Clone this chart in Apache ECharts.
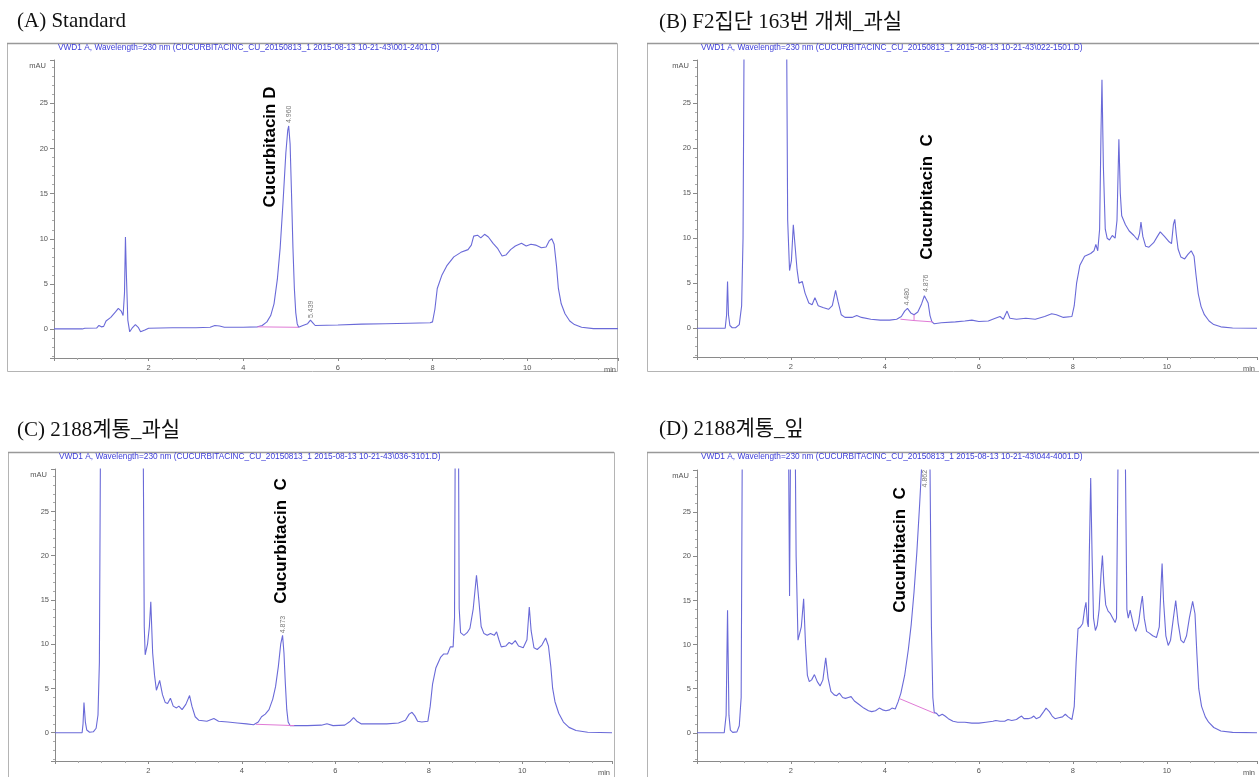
<!DOCTYPE html>
<html>
<head>
<meta charset="utf-8">
<script src="https://cdn.jsdelivr.net/npm/echarts@6/dist/echarts.min.js"></script>
<style>
  html, body { margin: 0; padding: 0; background: #fff; }
  #chart { width: 1259px; height: 777px; }
</style>
</head>
<body>
<div id="chart"></div>
<script>
// chromatogram traces, [time (min), signal (mAU)]
var traceA = [[0,0.02],[0.6,0.02],[0.65,0.1],[0.9,0.12],[0.95,0.4],[1.0,0.25],[1.05,0.3],[1.1,0.9],[1.2,1.3],[1.3,1.9],[1.36,2.3],[1.42,2.0],[1.46,1.5],[1.49,4],[1.51,10.2],[1.53,6],[1.56,1.0],[1.6,-0.3],[1.65,0.1],[1.72,0.5],[1.78,0.2],[1.83,-0.3],[1.87,-0.5],[1.92,-0.1],[2.0,0.1],[2.5,0.15],[3.0,0.15],[3.3,0.2],[3.4,0.4],[3.5,0.35],[3.6,0.2],[4.0,0.2],[4.3,0.25],[4.4,0.4],[4.5,0.8],[4.58,1.5],[4.65,2.8],[4.72,5.5],[4.78,9],[4.84,14],[4.9,19.5],[4.94,22],[4.96,22.5],[4.99,20.5],[5.02,15],[5.05,9],[5.08,4.5],[5.11,1.8],[5.14,0.6],[5.17,0.2],[5.21,0.1],[5.26,0.4],[5.3,0.3],[5.36,0.6],[5.42,1.0],[5.47,0.7],[5.52,0.4],[6.0,0.45],[6.5,0.55],[7.0,0.6],[7.5,0.65],[7.95,0.7],[8.0,0.8],[8.05,2.2],[8.1,4.5],[8.2,6.0],[8.3,7.0],[8.45,8.0],[8.6,8.5],[8.75,8.8],[8.82,9.3],[8.87,10.3],[8.95,10.4],[9.02,10.1],[9.1,10.5],[9.18,10.2],[9.28,9.5],[9.38,8.9],[9.47,8.1],[9.55,8.2],[9.65,8.8],[9.75,9.2],[9.88,9.5],[9.98,9.2],[10.08,9.4],[10.18,9.3],[10.3,9.0],[10.4,9.1],[10.47,9.8],[10.52,10.0],[10.57,9.4],[10.62,7.0],[10.66,4.5],[10.72,2.8],[10.8,1.7],[10.9,0.9],[11.0,0.5],[11.15,0.2],[11.4,0.05],[11.92,0.05]];

var traceB = [[0,0],[0.6,0],[0.63,1.5],[0.65,5.2],[0.67,1.5],[0.7,0.3],[0.75,0.05],[0.82,0.05],[0.9,0.4],[0.95,2.5],[0.98,10],[1.01,40],[1.2,80],[1.7,80],[1.9,40],[1.93,12],[1.97,6.4],[2.01,7.5],[2.05,11.5],[2.09,9],[2.13,6.5],[2.17,5.0],[2.24,5.2],[2.3,3.9],[2.38,2.8],[2.45,2.6],[2.51,3.4],[2.58,2.5],[2.68,2.3],[2.8,2.1],[2.88,2.5],[2.95,4.2],[3.0,3.0],[3.07,1.5],[3.15,1.2],[3.3,1.2],[3.4,1.4],[3.5,1.2],[3.7,1.0],[3.9,0.9],[4.1,0.9],[4.25,1.0],[4.35,1.3],[4.42,1.9],[4.48,2.2],[4.55,1.7],[4.62,1.5],[4.7,1.8],[4.78,2.7],[4.84,3.6],[4.88,3.8],[4.92,2.8],[4.96,1.4],[5.0,0.7],[5.05,0.5],[5.2,0.6],[5.5,0.7],[5.7,0.8],[5.85,0.9],[6.0,0.75],[6.2,0.8],[6.35,1.1],[6.45,1.3],[6.52,1.0],[6.6,1.9],[6.66,1.1],[6.8,1.0],[7.0,1.1],[7.2,1.0],[7.4,1.3],[7.55,1.6],[7.65,1.5],[7.8,1.2],[7.98,1.3],[8.03,2.5],[8.08,5.0],[8.15,7.0],[8.25,8.0],[8.38,8.3],[8.45,8.6],[8.49,9.3],[8.53,8.6],[8.57,11],[8.6,22],[8.62,27.6],[8.65,18],[8.69,11],[8.73,10.0],[8.78,9.8],[8.84,10.3],[8.9,10.0],[8.94,12],[8.98,21.0],[9.01,15],[9.04,12.5],[9.08,12.3],[9.12,11.5],[9.2,10.8],[9.3,10.3],[9.38,9.8],[9.42,10.5],[9.45,11.8],[9.49,10.2],[9.55,9.1],[9.62,9.0],[9.72,9.5],[9.8,10.2],[9.86,10.7],[9.95,10.2],[10.05,9.6],[10.1,9.4],[10.14,11.5],[10.17,12.1],[10.2,10.5],[10.24,8.8],[10.3,7.9],[10.38,7.7],[10.45,8.2],[10.52,8.6],[10.58,8.0],[10.62,6.0],[10.67,3.8],[10.73,2.4],[10.8,1.5],[10.9,0.8],[11.0,0.4],[11.15,0.15],[11.4,0.02],[11.92,0]];

var traceC = [[0,0],[0.58,0],[0.6,1.0],[0.62,3.4],[0.65,1.2],[0.68,0.3],[0.74,0.05],[0.82,0.1],[0.88,0.5],[0.92,2],[0.95,8],[0.98,40],[1.2,80],[1.7,80],[1.88,40],[1.91,12],[1.93,8.8],[1.98,10],[2.02,12],[2.05,14.8],[2.09,9],[2.13,6.5],[2.17,4.8],[2.24,5.9],[2.3,4.3],[2.36,3.4],[2.41,3.3],[2.47,3.9],[2.53,3.0],[2.6,2.8],[2.65,3.0],[2.72,2.6],[2.8,3.2],[2.88,4.2],[2.93,3.0],[3.0,1.8],[3.08,1.4],[3.25,1.3],[3.4,1.6],[3.5,1.3],[3.7,1.2],[3.9,1.1],[4.1,1.0],[4.25,0.9],[4.35,1.2],[4.42,1.8],[4.5,2.1],[4.58,2.6],[4.66,3.8],[4.72,5.2],[4.78,7.5],[4.83,10.0],[4.87,11.0],[4.9,9.0],[4.93,5.5],[4.96,2.6],[4.99,1.2],[5.03,0.8],[5.1,0.8],[5.4,0.8],[5.7,0.85],[5.82,1.0],[5.95,0.8],[6.2,0.85],[6.32,1.3],[6.39,1.7],[6.46,1.3],[6.55,1.0],[6.8,1.0],[7.1,1.0],[7.35,1.1],[7.5,1.4],[7.58,2.1],[7.64,2.3],[7.7,1.9],[7.76,1.3],[7.85,1.2],[7.98,1.3],[8.03,3.0],[8.08,5.5],[8.15,7.3],[8.25,8.5],[8.32,8.9],[8.4,8.9],[8.46,9.7],[8.52,9.7],[8.55,13],[8.57,40],[8.63,40],[8.65,14],[8.68,11.3],[8.75,11.0],[8.82,11.3],[8.88,11.8],[8.95,14],[9.02,17.8],[9.07,15],[9.12,12],[9.18,11.2],[9.25,11.0],[9.32,11.2],[9.4,11.0],[9.45,11.4],[9.5,10.5],[9.55,9.7],[9.65,9.8],[9.72,10.2],[9.78,10.0],[9.85,10.4],[9.92,9.8],[10.02,9.6],[10.1,10.5],[10.15,14.2],[10.19,11.5],[10.25,9.6],[10.32,9.4],[10.42,9.9],[10.5,10.7],[10.56,9.8],[10.61,7.5],[10.65,5.0],[10.7,3.5],[10.78,2.2],[10.88,1.2],[11.0,0.6],[11.15,0.25],[11.4,0.05],[11.92,0]];

var traceD = [[0,0],[0.58,0],[0.62,2],[0.65,13.9],[0.68,2],[0.71,0.3],[0.76,0.05],[0.85,0.1],[0.9,0.8],[0.94,4],[0.97,40],[1.2,80],[1.8,80],[1.94,40],[1.97,15.5],[2.0,40],[2.08,40],[2.11,20],[2.15,10.5],[2.18,10.3],[2.22,12],[2.27,15.2],[2.31,10],[2.35,6.5],[2.39,5.8],[2.44,6.0],[2.5,6.6],[2.56,5.8],[2.62,5.3],[2.68,6.0],[2.74,8.5],[2.79,6.2],[2.85,4.7],[2.92,4.3],[2.97,4.2],[3.03,4.5],[3.1,4.0],[3.16,3.9],[3.22,4.0],[3.28,4.1],[3.35,3.6],[3.45,3.2],[3.55,2.8],[3.65,2.5],[3.72,2.4],[3.8,2.5],[3.88,2.8],[3.95,2.6],[4.02,2.5],[4.1,2.6],[4.15,2.8],[4.22,2.7],[4.28,3.5],[4.34,4.5],[4.42,6.5],[4.5,9.5],[4.56,12.3],[4.62,16],[4.68,20.5],[4.74,26],[4.79,31],[4.85,45],[4.92,40],[4.96,30],[4.99,12],[5.02,4],[5.05,2.3],[5.1,2.2],[5.15,1.9],[5.22,2.1],[5.28,1.9],[5.35,1.6],[5.45,1.3],[5.55,1.2],[5.7,1.2],[5.85,1.1],[6.0,1.1],[6.15,1.2],[6.3,1.3],[6.36,1.4],[6.45,1.3],[6.55,1.3],[6.62,1.5],[6.7,1.4],[6.8,1.5],[6.85,1.7],[6.91,1.9],[6.96,1.6],[7.05,1.6],[7.12,1.7],[7.17,1.9],[7.22,1.6],[7.3,1.8],[7.38,2.4],[7.43,2.8],[7.5,2.4],[7.56,1.9],[7.62,1.6],[7.7,1.7],[7.78,1.8],[7.84,2.1],[7.9,1.8],[7.98,1.5],[8.03,3],[8.07,8],[8.11,11.8],[8.16,12.0],[8.21,12.4],[8.25,14],[8.28,14.8],[8.31,12.5],[8.33,12],[8.35,20],[8.38,28.9],[8.41,20],[8.44,13],[8.48,11.6],[8.52,12.2],[8.56,14],[8.6,18],[8.63,20.1],[8.66,17],[8.7,14.5],[8.75,13.8],[8.8,13.5],[8.85,13.0],[8.9,12.5],[8.93,13],[8.96,30],[8.98,60],[9.1,60],[9.12,30],[9.15,14],[9.18,13],[9.22,13.9],[9.26,13.8],[9.3,12],[9.34,11.5],[9.4,12.5],[9.45,14.5],[9.48,15.5],[9.52,13],[9.57,11.5],[9.63,11.3],[9.7,11.0],[9.78,10.8],[9.84,12],[9.88,17],[9.9,19.2],[9.93,15],[9.98,11],[10.03,9.9],[10.08,10.5],[10.14,13],[10.19,15.0],[10.24,12.5],[10.3,10.5],[10.36,10.2],[10.42,11],[10.48,13],[10.55,14.9],[10.6,13.5],[10.64,9],[10.68,5.0],[10.74,3.0],[10.82,1.8],[10.89,1.2],[11.0,0.6],[11.15,0.2],[11.4,0.05],[11.92,0]];

// integration baselines
var baseA = [[[4.3,0.25],[5.17,0.2]]];
var baseB = [[[4.33,1.0],[4.62,0.85],[5.02,0.7]], [[4.62,0.85],[4.62,1.5]]];
var baseC = [[[4.3,0.95],[5.12,0.8]]];
var baseD = [[[4.3,3.9],[5.06,2.2]]];

// retention time labels: [time, label anchor mAU]
var peaksA = [[4.960,22.6],[5.439,1.0]];
var peaksB = [[4.480,2.3],[4.876,3.8]];
var peaksC = [[4.873,11.0]];
var peaksD = [[4.862,27.6]];

var titles = ['(A) Standard', '(B) F2집단 163번 개체_과실', '(C) 2188계통_과실', '(D) 2188계통_잎'];
var headers = [
  'VWD1 A, Wavelength=230 nm (CUCURBITACINC_CU_20150813_1 2015-08-13 10-21-43\\001-2401.D)',
  'VWD1 A, Wavelength=230 nm (CUCURBITACINC_CU_20150813_1 2015-08-13 10-21-43\\022-1501.D)',
  'VWD1 A, Wavelength=230 nm (CUCURBITACINC_CU_20150813_1 2015-08-13 10-21-43\\036-3101.D)',
  'VWD1 A, Wavelength=230 nm (CUCURBITACINC_CU_20150813_1 2015-08-13 10-21-43\\044-4001.D)'
];
var compounds = ['Cucurbitacin D', 'Cucurbitacin  C', 'Cucurbitacin  C', 'Cucurbitacin  C'];

var xMax = 11.92;
var yMin = -3.2;
var yMax = 29.8;

var lineColor = '#6a6ad8';
var baseColor = '#e07ad6';
var axisColor = '#8a8a8a';
var tickText = '#555';

var grids = [
  {left: 54, top: 60, width: 564, height: 298},
  {left: 697, top: 60, width: 560, height: 297},
  {left: 55, top: 469, width: 557, height: 296},
  {left: 697, top: 470, width: 560, height: 297}
];
// frame boxes and text spots for each panel
var frames = [[7, 43, 610, 328], [647, 43, 620, 328], [8, 452, 606, 340], [647, 452, 620, 340]];
var titlePos = [[17, 21], [659, 22], [17, 430], [659, 429]];
var compoundPos = [[270, 147], [927, 197], [281, 541], [900, 550]];

var traces = [traceA, traceB, traceC, traceD];
var bases = [baseA, baseB, baseC, baseD];
var peaks = [peaksA, peaksB, peaksC, peaksD];

var xAxes = [], yAxes = [], series = [], graphics = [];

grids.forEach(function (g, i) {
  xAxes.push({
    type: 'value', gridIndex: i, min: 0, max: xMax, interval: 2,
    name: 'min', nameLocation: 'end', nameGap: -2,
    nameTextStyle: {fontSize: 7.5, color: tickText, align: 'right', verticalAlign: 'top', padding: [8, 0, 0, 0]},
    axisLine: {onZero: false, lineStyle: {color: axisColor, width: 1}},
    axisTick: {show: true, length: 3, lineStyle: {color: axisColor}},
    minorTick: {show: true, splitNumber: 4, length: 2, lineStyle: {color: '#aaa'}},
    axisLabel: {fontSize: 7.5, color: tickText, margin: 6, showMinLabel: false, showMaxLabel: false,
      fontFamily: 'Liberation Sans'},
    splitLine: {show: false}
  });
  yAxes.push({
    type: 'value', gridIndex: i, min: yMin, max: yMax, splitNumber: 6,
    name: 'mAU', nameLocation: 'end', nameGap: -6,
    nameTextStyle: {fontSize: 7.5, color: tickText, align: 'right', verticalAlign: 'middle', padding: [0, 8, 0, 0]},
    axisLine: {show: true, lineStyle: {color: axisColor, width: 1}},
    axisTick: {show: true, length: 4, lineStyle: {color: axisColor}},
    minorTick: {show: true, splitNumber: 5, length: 2, lineStyle: {color: '#aaa'}},
    axisLabel: {fontSize: 7.5, color: tickText, margin: 6, showMinLabel: false, showMaxLabel: false,
      fontFamily: 'Liberation Sans'},
    splitLine: {show: false}
  });

  series.push({
    type: 'line', xAxisIndex: i, yAxisIndex: i, data: traces[i],
    showSymbol: false, clip: true, silent: true,
    lineStyle: {color: lineColor, width: 1.1}
  });
  bases[i].forEach(function (seg) {
    series.push({
      type: 'line', xAxisIndex: i, yAxisIndex: i, data: seg,
      showSymbol: false, silent: true,
      lineStyle: {color: baseColor, width: 1}
    });
  });
  series.push({
    type: 'scatter', xAxisIndex: i, yAxisIndex: i, data: peaks[i],
    symbolSize: 0, silent: true,
    label: {
      show: true, position: 'top', distance: 2, rotate: 90,
      align: 'left', verticalAlign: 'middle',
      fontSize: 7, color: '#555', fontFamily: 'Liberation Sans',
      formatter: function (p) { return p.value[0].toFixed(3); }
    }
  });

  var f = frames[i];
  graphics.push({
    type: 'rect', shape: {x: f[0] + 0.5, y: f[1] + 0.5, width: f[2], height: f[3]},
    style: {fill: null, stroke: '#b4b4b4', lineWidth: 1}, silent: true
  });
  graphics.push({
    type: 'line', shape: {x1: f[0], y1: f[1] + 0.5, x2: f[0] + f[2], y2: f[1] + 0.5},
    style: {stroke: '#999', lineWidth: 1.5}, silent: true
  });
  graphics.push({
    type: 'text', x: g.left + 4, y: f[1] + 5,
    style: {text: headers[i], fontSize: 8.3, fill: '#3c3cd8', fontFamily: 'Liberation Sans',
      align: 'left', verticalAlign: 'middle'}
  });
  graphics.push({
    type: 'text', x: titlePos[i][0], y: titlePos[i][1],
    style: {text: titles[i], fontSize: 21, fill: '#111',
      fontFamily: '"Liberation Serif", "Noto Sans CJK KR", serif',
      align: 'left', verticalAlign: 'middle'}
  });
  graphics.push({
    type: 'text', x: compoundPos[i][0], y: compoundPos[i][1], rotation: Math.PI / 2,
    style: {text: compounds[i], fontSize: 17, fontWeight: 'bold', fill: '#000',
      fontFamily: '"Liberation Sans", Arial, sans-serif',
      align: 'center', verticalAlign: 'middle'}
  });
});

var chart = echarts.init(document.getElementById('chart'));
chart.setOption({
  animation: false,
  backgroundColor: '#fff',
  grid: grids,
  xAxis: xAxes,
  yAxis: yAxes,
  series: series,
  graphic: graphics
});
</script>
</body>
</html>
